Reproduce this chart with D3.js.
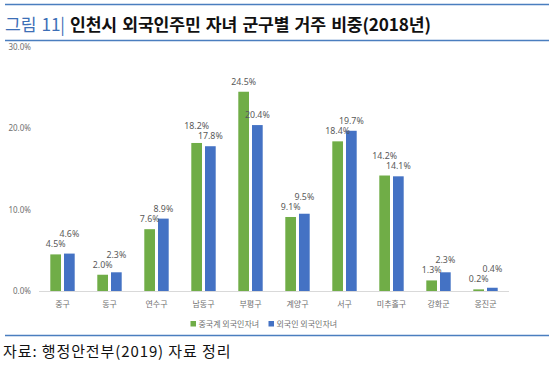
<!DOCTYPE html>
<html><head><meta charset="utf-8">
<script src="https://cdn.jsdelivr.net/npm/d3@7"></script>
<style>
body{margin:0;background:#fff;}
svg{display:block;font-family:"Noto Sans CJK KR","Noto Sans",sans-serif;}
</style></head>
<body><svg id="c" width="554" height="368"></svg>
<script>
const categories = ["중구","동구","연수구","남동구","부평구","계양구","서구","미추홀구","강화군","옹진군"];
const seriesNames = ["중국계 외국인자녀","외국인 외국인자녀"];
const chinese = [4.5,2.0,7.6,18.2,24.5,9.1,18.4,14.2,1.3,0.2];
const foreign = [4.6,2.3,8.9,17.8,20.4,9.5,19.7,14.1,2.3,0.4];
const yTicks = [0,10,20,30];
const colors = ["#70ad47","#4472c4"];

const svg = d3.select("#c");
// frame lines
[4.5,40.5,335.5].forEach(ly=>{
  svg.append("line").attr("x1",5).attr("x2",549).attr("y1",ly).attr("y2",ly).attr("stroke","#4a7ebf").attr("stroke-width",1.3);
});

const t = svg.append("text").attr("x",5).attr("y",31).attr("font-size",17.2).attr("letter-spacing",-0.15).attr("word-spacing",1.5);
t.append("tspan").attr("fill","#3d6fb6").text("그림 11| ");
t.append("tspan").attr("fill","#111").attr("font-weight","bold").text("인천시 외국인주민 자녀 군구별 거주 비중(2018년)");

svg.append("text").attr("x",3).attr("y",357).attr("font-size",15).attr("letter-spacing",0.9).attr("fill","#111").text("자료: 행정안전부(2019) 자료 정리");

const x0 = d3.scaleBand().domain(categories).range([39,509]).paddingInner(0).paddingOuter(0);
const y = d3.scaleLinear().domain([0,30]).range([291,47]);
const barW = 10.7, gap = 3;

// y axis labels
const ya = svg.append("g").attr("transform","translate(31,0)")
  .call(d3.axisLeft(y).tickValues(yTicks).tickSize(0).tickPadding(0).tickFormat(d=>d3.format(".1f")(d)+"%"));
ya.select(".domain").remove();
ya.selectAll("text").attr("font-size",8).attr("fill","#707070").attr("font-family","'Noto Sans','DejaVu Sans',sans-serif");

// baseline
svg.append("line").attr("x1",39).attr("x2",509).attr("y1",291.5).attr("y2",291.5).attr("stroke","#d9d9d9").attr("stroke-width",1);

// x labels
const xa = svg.append("g").attr("transform","translate(0,291)")
  .call(d3.axisBottom(x0).tickSize(0).tickPadding(10));
xa.select(".domain").remove();
xa.selectAll("text").attr("font-size",8).attr("fill","#707070").attr("font-family","'Noto Sans CJK KR',sans-serif");

const series=[chinese,foreign];
categories.forEach((c,i)=>{
  const cx = x0(c)+x0.bandwidth()/2;
  const xs=[cx-gap/2-barW, cx+gap/2];
  series.forEach((s,k)=>{
    svg.append("rect").attr("x",xs[k]).attr("y",y(s[i])).attr("width",barW).attr("height",y(0)-y(s[i])).attr("fill",colors[k]);
  });
  let gy = y(chinese[i])-7;
  let by = y(foreign[i])-7;
  if (Math.abs(gy-by)<10) {
    if (foreign[i] >= chinese[i]) by = Math.min(by, gy-10);
    else gy = Math.min(gy, by-10);
  }
  [[gy,0],[by,1]].forEach(([ly,k])=>{
    svg.append("text").attr("x",xs[k]+barW/2).attr("y",ly).attr("text-anchor","middle")
      .attr("font-size",8.8).attr("fill","#595959").attr("font-family","'Noto Sans','DejaVu Sans',sans-serif")
      .text(d3.format(".1f")(series[k][i])+"%");
  });
});

// legend
const lg = [[190.5,seriesNames[0]],[268.5,seriesNames[1]]];
lg.forEach(([lx,name],k)=>{
  svg.append("rect").attr("x",lx).attr("y",321).attr("width",5.5).attr("height",5.5).attr("fill",colors[k]);
  svg.append("text").attr("x",lx+8).attr("y",327).attr("font-size",8).attr("fill","#707070").text(name);
});
</script></body></html>
